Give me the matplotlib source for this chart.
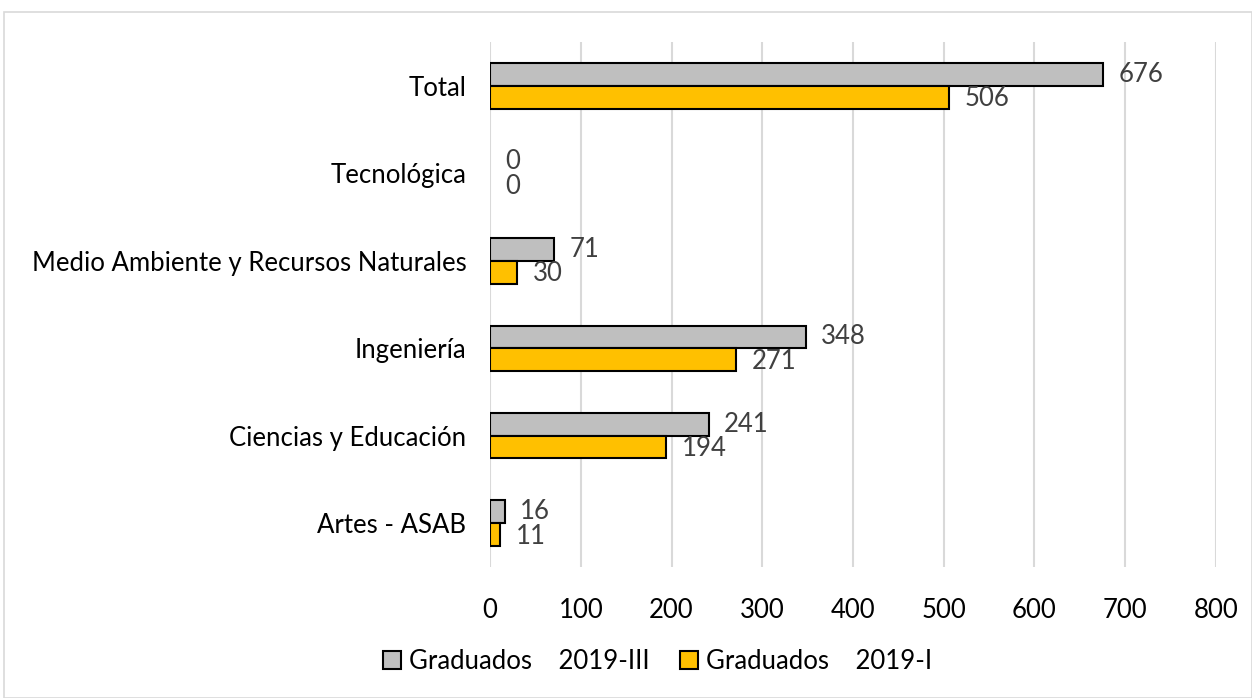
import numpy as np
import matplotlib.pyplot as plt
from matplotlib.patches import Rectangle

categories = ["Artes - ASAB", "Ciencias y Educación", "Ingeniería",
              "Medio Ambiente y Recursos Naturales", "Tecnológica", "Total"]
grad_2019_III = [16, 241, 348, 71, 0, 676]
grad_2019_I = [11, 194, 271, 30, 0, 506]
xticks = [0, 100, 200, 300, 400, 500, 600, 700, 800]

plt.rcParams['font.family'] = ['Lato', 'DejaVu Sans']

fig = plt.figure(figsize=(12.52, 6.98), dpi=100)
ax = fig.add_axes([0.3914, 0.1877, 0.5798, 0.7521])

# outer chart border
fig.patches.append(Rectangle((0.003, 0.0), 0.997, 0.983, transform=fig.transFigure,
                             fill=False, edgecolor="#d9d9d9", linewidth=1.2))

y = np.arange(len(categories))
h = 0.26
lw3 = [1.5 if v > 0 else 0 for v in grad_2019_III]
lw1 = [1.5 if v > 0 else 0 for v in grad_2019_I]
ax.barh(y + h / 2, grad_2019_III, height=h, color="#BFBFBF", edgecolor="black",
        linewidth=lw3, label="Graduados    2019-III", zorder=3)
ax.barh(y - h / 2, grad_2019_I, height=h, color="#FFC000", edgecolor="black",
        linewidth=lw1, label="Graduados    2019-I", zorder=3)

for yi, v in zip(y, grad_2019_III):
    ax.text(v + 17, yi + h / 2, str(v), va="center", ha="left",
            fontsize=18.5, color="#404040")
for yi, v in zip(y, grad_2019_I):
    ax.text(v + 17, yi - h / 2 - 0.02, str(v), va="center", ha="left",
            fontsize=18.5, color="#404040")

ax.set_xlim(0, 800)
ax.set_ylim(-0.5, len(categories) - 0.5)
ax.set_xticks(xticks)
ax.set_yticks(y)
ax.set_yticklabels(categories)
ax.tick_params(axis="both", length=0, labelsize=18.5, colors="black")
ax.tick_params(axis="x", pad=22)
ax.tick_params(axis="y", pad=17)
ax.grid(axis="x", color="#d9d9d9", linewidth=1.5, zorder=0)
for s in ax.spines.values():
    s.set_visible(False)

fig.legend(loc="center", bbox_to_anchor=(0.525, 0.052), ncol=2, frameon=False,
           fontsize=18.5, handlelength=0.7, handleheight=0.7, handletextpad=0.3,
           columnspacing=1.2)

fig.savefig("out.png", dpi=100)
